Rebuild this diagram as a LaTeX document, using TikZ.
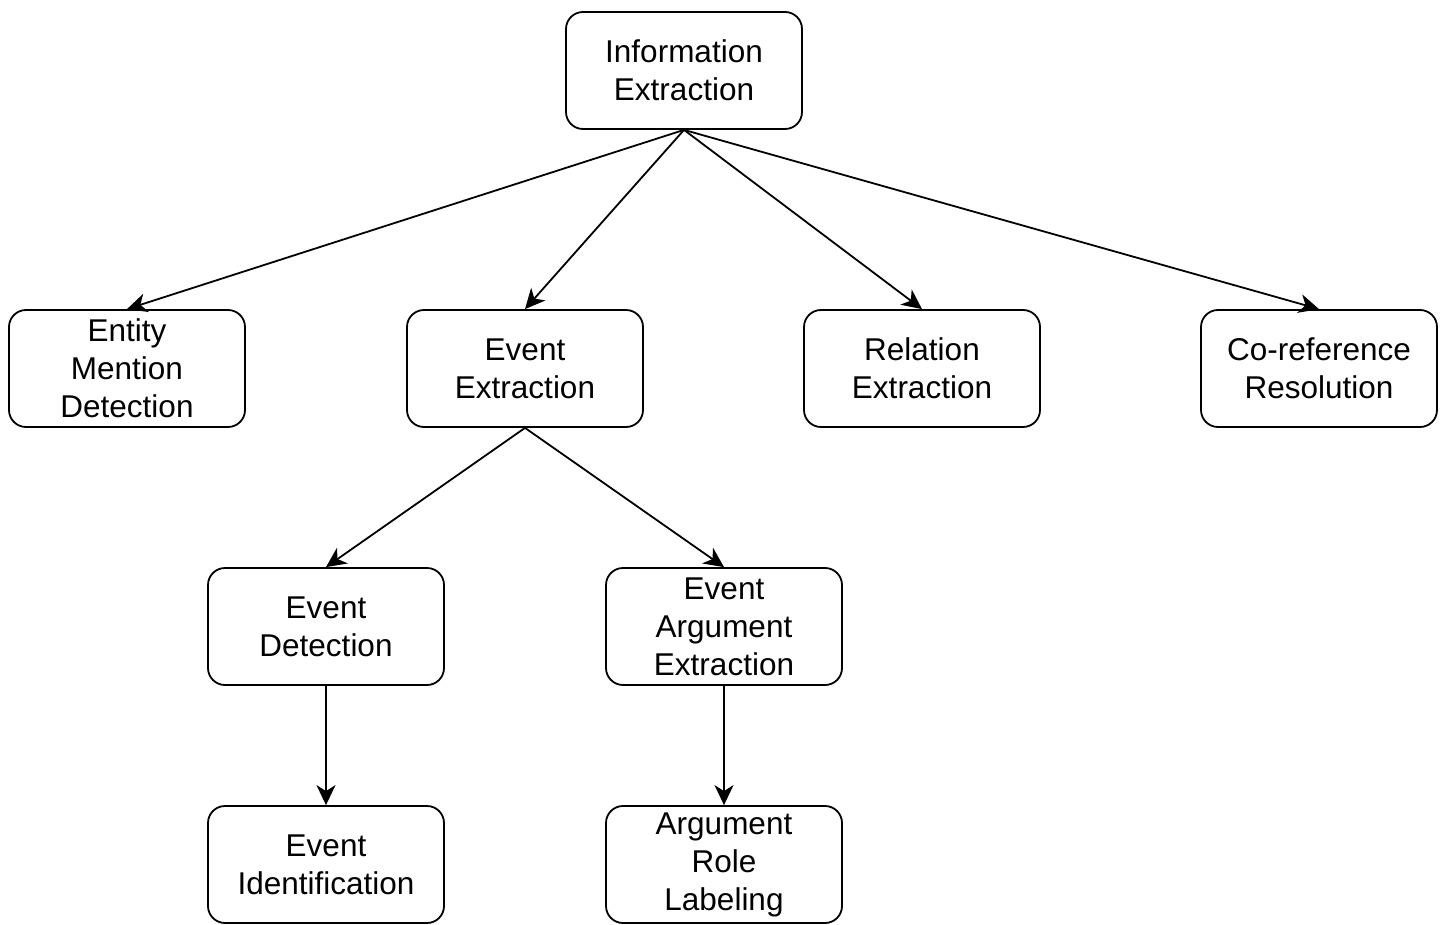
\documentclass[tikz,border=0pt]{standalone}
\usepackage{fontspec}
\setmainfont{Liberation Sans}
\usetikzlibrary{arrows.meta}
\begin{document}
\begin{tikzpicture}[x=1pt,y=-1pt,
  box/.style={draw, line width=1.8pt, rounded corners=17pt, minimum width=236pt, minimum height=117pt, align=center, font=\fontsize{31.5}{38}\selectfont, inner sep=0pt},
  arr/.style={line width=1.8pt, -{Stealth[length=20pt,width=19pt,inset=6pt]}}]
\useasboundingbox (0,0) rectangle (1450,925);
\node[box] (ie) at (684,70.5) {Information\\Extraction};
\node[box] (emd) at (127,368.5) {Entity\\Mention\\Detection};
\node[box] (ee) at (525,368.5) {Event\\Extraction};
\node[box] (re) at (922,368.5) {Relation\\Extraction};
\node[box] (cr) at (1319,368.5) {Co-reference\\Resolution};
\node[box] (ed) at (326,626.5) {Event\\Detection};
\node[box] (eae) at (724,626.5) {Event\\Argument\\Extraction};
\node[box] (ei) at (326,864.5) {Event\\Identification};
\node[box] (arl) at (724,864.5) {Argument\\Role\\Labeling};
\draw[arr] (ie.south) -- (emd.north);
\draw[arr] (ie.south) -- (ee.north);
\draw[arr] (ie.south) -- (re.north);
\draw[arr] (ie.south) -- (cr.north);
\draw[arr] (ee.south) -- (ed.north);
\draw[arr] (ee.south) -- (eae.north);
\draw[arr] (ed.south) -- (ei.north);
\draw[arr] (eae.south) -- (arl.north);
\end{tikzpicture}
\end{document}
